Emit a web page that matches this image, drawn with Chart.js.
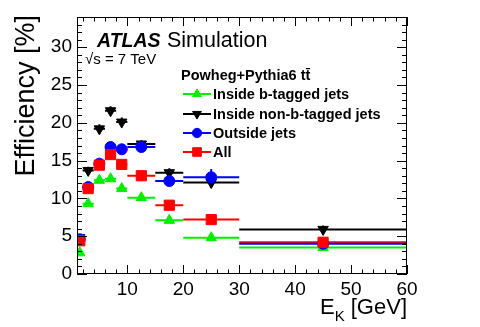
<!DOCTYPE html>
<html>
<head>
<meta charset="utf-8">
<script src="https://cdn.jsdelivr.net/npm/chart.js@4/dist/chart.umd.min.js"></script>
<style>
  html, body { margin: 0; padding: 0; background: #fff; }
  #wrap { width: 480px; height: 327px; }
</style>
</head>
<body>
<div id="wrap"><canvas id="effChart" width="480" height="327"></canvas></div>
<script>
// Bins in E_K [GeV]
const binLo     = [1, 2, 4, 6, 8, 10, 15, 20, 30];
const binHi     = [2, 4, 6, 8, 10, 15, 20, 30, 60];
const binCenter = [1.5, 3, 5, 7, 9, 12.5, 17.5, 25, 45];

// Efficiency [%]
const effBTag    = [2.8, 9.3, 12.4, 12.6, 11.3, 10.1, 7.1, 4.8, 3.5];
const effNonBTag = [4.8, 13.7, 19.2, 21.6, 20.1, 17.2, 13.4, 12.1, 5.9];
const effOutside = [4.6, 11.5, 14.6, 16.8, 16.5, 16.8, 12.3, 12.8, 4.0];
const effAll     = [4.4, 11.3, 14.4, 15.8, 14.5, 13.0, 9.1, 7.2, 4.2];

// stat. errors
const errBTag    = [0.3, 0.3, 0.3, 0.3, 0.3, 0.3, 0.3, 0.3, 0.3];
const errNonBTag = [0.5, 0.5, 0.6, 0.6, 0.6, 0.5, 0.6, 0.6, 0.5];
const errOutside = [0.3, 0.3, 0.3, 0.3, 0.3, 0.3, 0.4, 1.1, 0.9];
const errAll     = [0.3, 0.3, 0.3, 0.3, 0.3, 0.3, 0.3, 0.3, 0.3];

const xTicks = [10, 20, 30, 40, 50, 60];
const yTicks = [0, 5, 10, 15, 20, 25, 30];

const FONT = "'Liberation Sans', Arial, Helvetica, sans-serif";

function points(vals) {
  return vals.map((v, i) => ({ x: binCenter[i], y: v }));
}

const series = [
  { label: "Inside b-tagged jets",     vals: effBTag,    errs: errBTag,    color: "#00ee00", style: "triangle", rot: 0,   r: 6,   order: 3 },
  { label: "Inside non-b-tagged jets", vals: effNonBTag, errs: errNonBTag, color: "#000000", style: "triangle", rot: 180, r: 6,   order: 2 },
  { label: "Outside jets",             vals: effOutside, errs: errOutside, color: "#0000ff", style: "circle",   rot: 0,   r: 5.5, order: 1 },
  { label: "All",                      vals: effAll,     errs: errAll,     color: "#ff0000", style: "rect",     rot: 0,   r: 7.2, order: 0 }
];

function drawMarker(ctx, s, x, y) {
  ctx.save();
  ctx.fillStyle = s.color;
  ctx.strokeStyle = s.color;
  ctx.lineWidth = 1;
  Chart.helpers.drawPoint(ctx, { pointStyle: s.style, rotation: s.rot, radius: s.r, borderWidth: 1 }, x, y);
  ctx.restore();
}

// horizontal bin-width bars + vertical stat. bars
const errorBars = {
  id: "errorBars",
  beforeDatasetsDraw(chart) {
    const ctx = chart.ctx, xs = chart.scales.x, ys = chart.scales.y;
    ctx.save();
    ctx.lineWidth = 2;
    [...series].reverse().forEach(s => {
      ctx.strokeStyle = s.color;
      s.vals.forEach((v, i) => {
        const py = ys.getPixelForValue(v);
        const px = xs.getPixelForValue(binCenter[i]);
        ctx.beginPath();
        ctx.moveTo(xs.getPixelForValue(Math.max(binLo[i], xs.min)), py);
        ctx.lineTo(xs.getPixelForValue(binHi[i]), py);
        ctx.moveTo(px, ys.getPixelForValue(v - s.errs[i]));
        ctx.lineTo(px, ys.getPixelForValue(v + s.errs[i]));
        ctx.stroke();
      });
    });
    ctx.restore();
  }
};

// ROOT style frame, inward ticks, labels and legend
const decorations = {
  id: "decorations",
  afterDraw(chart) {
    const ctx = chart.ctx, xs = chart.scales.x, ys = chart.scales.y;
    const a = chart.chartArea;
    ctx.save();
    ctx.strokeStyle = "#000";
    ctx.lineWidth = 1;
    ctx.strokeRect(a.left + 0.5, a.top + 0.5, a.right - a.left - 1, a.bottom - a.top - 1);

    ctx.beginPath();
    for (let v = 2; v <= 60; v += 2) {
      const len = v % 10 === 0 ? 9 : 4.5;
      const px = Math.round(xs.getPixelForValue(v)) + 0.5;
      ctx.moveTo(px, a.bottom); ctx.lineTo(px, a.bottom - len);
      ctx.moveTo(px, a.top);    ctx.lineTo(px, a.top + len);
    }
    for (let v = 0; v <= 34; v += 1) {
      const len = v % 5 === 0 ? 10 : 5;
      const py = Math.round(ys.getPixelForValue(v)) + 0.5;
      ctx.moveTo(a.left, py);  ctx.lineTo(a.left + len, py);
      ctx.moveTo(a.right, py); ctx.lineTo(a.right - len, py);
    }
    ctx.stroke();

    ctx.fillStyle = "#000";
    ctx.textBaseline = "alphabetic";

    // y title
    ctx.save();
    ctx.translate(34, 15);
    ctx.rotate(-Math.PI / 2);
    ctx.textAlign = "right";
    ctx.font = "27px " + FONT;
    ctx.fillText("Efficiency [%]", 0, 0);
    ctx.restore();

    // x title, right aligned to the frame
    ctx.textAlign = "left";
    ctx.font = "22px " + FONT;
    const wE = ctx.measureText("E").width;
    const wG = ctx.measureText(" [GeV]").width;
    ctx.font = "15px " + FONT;
    const wK = ctx.measureText("K").width;
    const xTitleX = a.right - wE - wK - wG;
    ctx.fillText("K", xTitleX + wE, 321);
    ctx.font = "22px " + FONT;
    ctx.fillText("E", xTitleX, 314);
    ctx.fillText(" [GeV]", xTitleX + wE + wK, 314);

    // ATLAS label
    ctx.font = "bold italic 19.5px " + FONT;
    ctx.fillText("ATLAS", 97, 47);
    ctx.font = "21.5px " + FONT;
    ctx.fillText("Simulation", 167, 47);
    ctx.font = "15px " + FONT;
    ctx.fillText("\u221As = 7 TeV", 85, 64);

    // legend
    ctx.font = "bold 14.5px " + FONT;
    ctx.fillText("Powheg+Pythia6 t\u0074\u0304", 181, 80);
    const rowY = [94, 114, 133, 152];
    series.forEach((s, i) => {
      const y = rowY[i];
      ctx.strokeStyle = s.color;
      ctx.lineWidth = 2;
      ctx.beginPath();
      ctx.moveTo(183, y); ctx.lineTo(211, y);
      ctx.stroke();
      drawMarker(ctx, Object.assign({}, s, { r: s.r * 0.85 }), 197, y);
      ctx.fillStyle = "#000";
      ctx.font = "bold 14.5px " + FONT;
      ctx.fillText(s.label, 213, y + 5);
    });
    ctx.restore();
  }
};

const ctx = document.getElementById("effChart").getContext("2d");
new Chart(ctx, {
  type: "scatter",
  data: {
    datasets: series.map(s => ({
      label: s.label,
      data: points(s.vals),
      order: s.order,
      showLine: false,
      pointStyle: s.style,
      rotation: s.rot,
      pointRadius: s.r,
      pointHoverRadius: s.r,
      backgroundColor: s.color,
      borderColor: s.color,
      borderWidth: 1
    }))
  },
  options: {
    responsive: false,
    animation: false,
    layout: { padding: { top: 17, right: 73, left: 0, bottom: 0 } },
    plugins: { legend: { display: false }, tooltip: { enabled: false } },
    scales: {
      x: {
        type: "linear",
        min: 1,
        max: 60,
        afterBuildTicks: s => { s.ticks = xTicks.map(v => ({ value: v })); },
        afterFit: s => { s.height = 53; },
        grid: { display: false, drawTicks: false },
        border: { display: false },
        ticks: { color: "#000", padding: 4, maxRotation: 0, font: { family: FONT, size: 19 } }
      },
      y: {
        min: 0,
        max: 34,
        afterBuildTicks: s => { s.ticks = yTicks.map(v => ({ value: v })); },
        afterFit: s => { s.width = 77; },
        grid: { display: false, drawTicks: false },
        border: { display: false },
        ticks: { color: "#000", padding: 5, font: { family: FONT, size: 19 } }
      }
    }
  },
  plugins: [errorBars, decorations]
});
</script>
</body>
</html>
